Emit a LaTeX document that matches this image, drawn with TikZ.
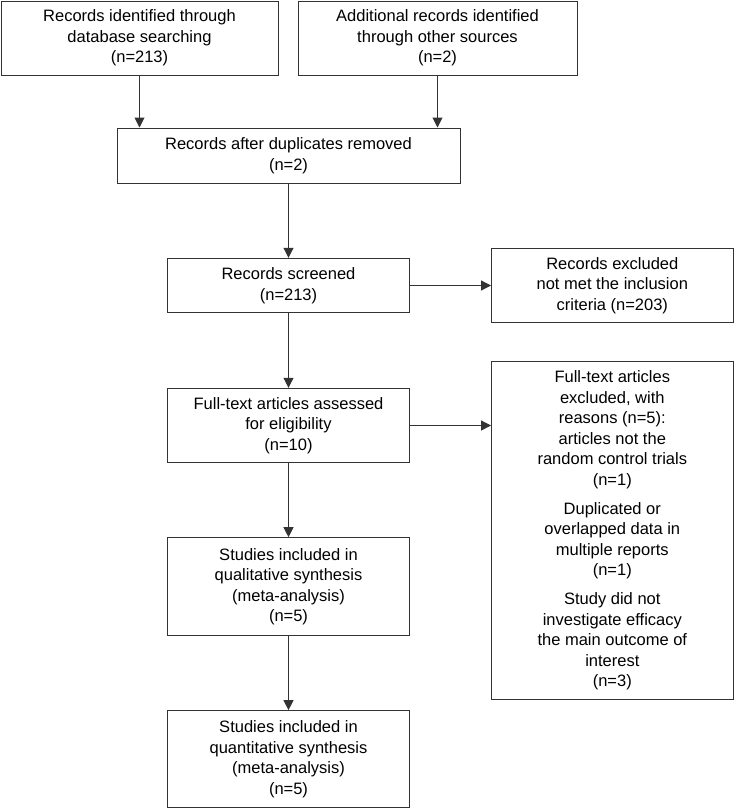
\documentclass[tikz,border=0pt]{standalone}
\usepackage{fontspec}
\setmainfont{Liberation Sans}
\usetikzlibrary{arrows.meta}
\newcommand\boxfont{\fontsize{16.5}{20.6}\selectfont}
\begin{document}
\begin{tikzpicture}[x=1pt,y=-1pt,
  box/.style={draw=black!80, line width=1pt, align=center, inner sep=0pt, font=\boxfont, text=black},
  arr/.style={-{Triangle[length=10pt,width=10pt]}, draw=black!80, line width=1pt}]
\useasboundingbox (0,0) rectangle (734,809);
\node[box, minimum width=277pt, minimum height=74pt] (A) at (139.5,38) {Records identified through\\database searching\\(n=213)};
\node[box, minimum width=279pt, minimum height=74pt] (B) at (437.5,38) {Additional records identified\\through other sources\\(n=2)};
\node[box, minimum width=343pt, minimum height=55pt] (C) at (288.5,155.5) {Records after duplicates removed\\(n=2)};
\node[box, minimum width=242.4pt, minimum height=54.4pt] (D) at (288.5,285.5) {Records screened\\(n=213)};
\node[box, minimum width=241.5pt, minimum height=74.4pt] (E) at (612.3,285.5) {Records excluded\\not met the inclusion\\criteria (n=203)};
\node[box, minimum width=242.4pt, minimum height=74.4pt] (F) at (288.5,425.5) {Full-text articles assessed\\for eligibility\\(n=10)};
\node[box, minimum width=241.5pt, minimum height=337.6pt] (G) at (612.3,530.5) {Full-text articles\\excluded, with\\reasons (n=5):\\articles not the\\random control trials\\(n=1)\\[8pt]Duplicated or\\overlapped data in\\multiple reports\\(n=1)\\[8pt]Study did not\\investigate efficacy\\the main outcome of\\interest\\(n=3)};
\node[box, minimum width=242.4pt, minimum height=98pt] (H) at (288.5,586.7) {Studies included in\\qualitative synthesis\\(meta-analysis)\\(n=5)};
\node[box, minimum width=242.4pt, minimum height=97.3pt] (I) at (288.5,759.3) {Studies included in\\quantitative synthesis\\(meta-analysis)\\(n=5)};
\draw[arr] (A.south) -- (A.south |- C.north);
\draw[arr] (B.south) -- (B.south |- C.north);
\draw[arr] (C.south) -- (D.north);
\draw[arr] (D.east) -- (E.west);
\draw[arr] (D.south) -- (F.north);
\draw[arr] (F.east) -- (F.east -| G.west);
\draw[arr] (F.south) -- (H.north);
\draw[arr] (H.south) -- (I.north);
\end{tikzpicture}
\end{document}
